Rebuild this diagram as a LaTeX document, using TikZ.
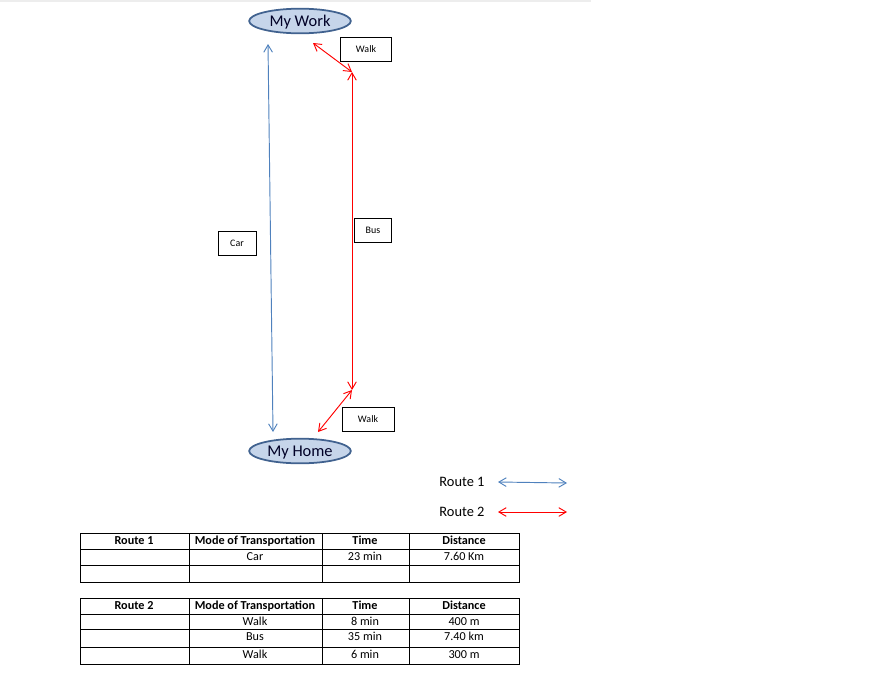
\documentclass[tikz,border=0pt]{standalone}
\usepackage{fontspec}
\setmainfont{Carlito}
\usetikzlibrary{arrows.meta,shapes.geometric}
\definecolor{routeA}{HTML}{4F81BD}
\definecolor{routeB}{HTML}{FF0000}
\definecolor{placefill}{HTML}{C6D5EA}
\definecolor{placeline}{HTML}{41628F}
\tikzset{
  place/.style={ellipse,draw=placeline,fill=placefill,line width=1.5pt,
    minimum width=3.05cm,minimum height=0.74cm,inner sep=0pt,
    text depth=0pt,
    font=\fontsize{14}{16}\selectfont,text=black!85!blue},
  tag/.style={draw,line width=0.7pt,minimum height=0.72cm,inner sep=0pt,
    font=\fontsize{8.5}{10}\selectfont},
  rA/.style={draw=routeA,line width=0.8pt,{Straight Barb[length=0.22cm,width=0.26cm]}-{Straight Barb[length=0.22cm,width=0.26cm]}},
  rB/.style={rA,draw=routeB},
  grid/.style={draw,line width=0.7pt},
  cell/.style={font=\fontsize{10.4}{12}\selectfont,inner sep=0pt,
    text height=1.45ex,text depth=0.2ex},
  head/.style={cell,font=\fontsize{10.4}{12}\selectfont\bfseries}
}
\begin{document}
\begin{tikzpicture}[x=0.03cm,y=-0.03cm]
      \useasboundingbox (0,0) rectangle (877,673);
      \fill[black!7] (0,0) rectangle (591,1.5);

      \node[place] (work) at (300,21) {My Work};
      \node[place] (home) at (300,451) {My Home};

      \coordinate (a0) at (268,44);
      \coordinate (a1) at (273,432);
      \coordinate (b0) at (313,43);
      \coordinate (b1) at (352,72);
      \coordinate (b2) at (352,390);
      \coordinate (b3) at (318,432);
      \draw[rA] (a0) -- (a1);
      \draw[rB] (b0) -- (b1);
      \draw[rB] (b1) -- (b2);
      \draw[rB] (b2) -- (b3);

      \node[tag,minimum width=1.14cm] (car) at (237,243) {Car};
      \node[tag,minimum width=1.53cm] (walkA) at (366,49) {Walk};
      \node[tag,minimum width=1.11cm] (bus) at (373,230) {Bus};
      \node[tag,minimum width=1.56cm] (walkB) at (368,419) {Walk};

      % legend
      \node[font=\fontsize{12.3}{14}\selectfont] (keyA) at (462,482) {Route 1};
      \node[font=\fontsize{12.3}{14}\selectfont] (keyB) at (462,512) {Route 2};
      \coordinate (ka0) at (498,482);
      \coordinate (ka1) at (567,483);
      \coordinate (kb0) at (498,512);
      \coordinate (kb1) at (567,512);
      \draw[rA] (ka0) -- (ka1);
      \draw[rB] (kb0) -- (kb1);

      % tables
      \draw[grid] (80,533) rectangle (519,582) (80,598) rectangle (519,664);
      \foreach \y in {549,565,614,629,647}
        \draw[grid] (80,\y) -- (519,\y);
      \foreach \x in {189,322,409}
        \draw[grid] (\x,533) -- (\x,582) (\x,598) -- (\x,664);

      \node[head] (ta1) at (134,541) {Route 1};
      \node[head] (tb1) at (134,606) {Route 2};
      \foreach \cx/\txt [count=\i from 2] in {255/Mode of Transportation,365/Time,464/Distance}{
        \node[head] (ta\i) at (\cx,541) {\txt};
        \node[head] (tb\i) at (\cx,606) {\txt};
      }
      \node[cell] (ra2) at (255,557) {Car};
      \node[cell] (ra3) at (365,557) {23 min};
      \node[cell] (ra4) at (464,557) {7.60 Km};
      \foreach \y/\m/\t/\d [count=\i] in {622/Walk/8 min/400 m,637/Bus/35 min/7.40 km,655/Walk/6 min/300 m}{
        \node[cell] (m\i) at (255,\y) {\m};
        \node[cell] (t\i) at (365,\y) {\t};
        \node[cell] (d\i) at (464,\y) {\d};
      }
    \end{tikzpicture}
\end{document}
